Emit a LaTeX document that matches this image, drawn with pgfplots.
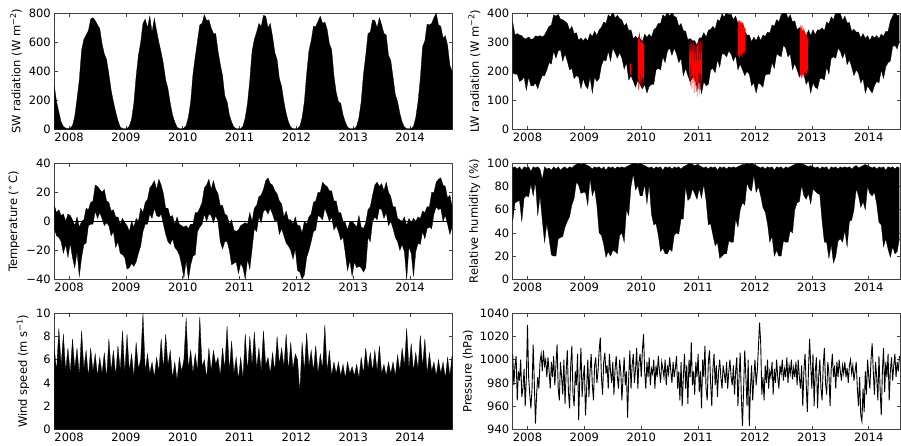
\documentclass[border=0pt]{standalone}
\usepackage{fontspec}
\setmainfont{DejaVu Sans}
\usepackage{pgfplots}
\usepackage{pgfplotstable}
\pgfplotsset{compat=1.18}
\usepgfplotslibrary{fillbetween}

% left column: SW max, temperature band (lo/hi), wind speed max
\pgfplotstableread{
t sw tlo thi ws
2007.74 300 -5 11 7.0
2007.78 190 -10 6 5.0
2007.82 120 -11 8 8.7
2007.86 50 -14 4 5.5
2007.90 20 -22 5 8.2
2007.94 8 -16 0 5.0
2007.98 5 -25 5 7.0
2008.02 8 -15 4 4.8
2008.06 25 -25 1 7.8
2008.10 90 -32 -3 5.2
2008.14 210 -21 3 7.0
2008.18 340 -38 -4 4.6
2008.22 545 -25 0 8.5
2008.26 620 -16 1 5.2
2008.30 650 -15 9 6.8
2008.34 680 -3 8 4.5
2008.38 760 -2 13 7.0
2008.42 770 -2 14 5.0
2008.46 750 7 25 6.5
2008.50 720 2 24 4.6
2008.54 695 6 22 6.2
2008.58 590 2 20 4.8
2008.62 520 -3 22 6.6
2008.66 480 -1 14 4.4
2008.70 380 -3 13 7.8
2008.74 270 -10 7 5.0
2008.78 190 -7 8 6.8
2008.82 120 -18 3 4.6
2008.86 60 -14 3 7.2
2008.90 15 -22 -2 5.0
2008.94 5 -23 2 8.5
2008.98 5 -25 -1 4.8
2009.02 5 -33 -3 8.2
2009.06 20 -32 -7 5.0
2009.10 70 -29 0 6.5
2009.14 180 -31 -4 4.5
2009.18 365 -28 2 7.5
2009.22 510 -22 0 5.2
2009.26 600 -17 9 6.0
2009.30 730 -7 6 10.0
2009.34 760 -2 13 5.0
2009.38 700 -2 15 6.5
2009.42 780 5 23 4.8
2009.46 670 2 25 5.8
2009.50 765 9 28 4.5
2009.54 680 4 22 6.2
2009.58 600 3 29 5.0
2009.62 530 5 25 7.8
2009.66 450 -2 19 5.2
2009.70 340 -9 9 8.2
2009.74 280 -14 9 5.5
2009.78 180 -16 3 6.8
2009.82 100 -12 4 4.4
2009.86 50 -18 -2 5.8
2009.90 15 -20 3 4.2
2009.94 5 -23 -2 6.2
2009.98 5 -30 -3 5.0
2010.02 8 -39 -4 6.0
2010.06 25 -27 -3 9.6
2010.10 85 -40 -5 5.2
2010.14 190 -30 -2 6.8
2010.18 380 -24 -2 4.8
2010.22 500 -23 6 6.5
2010.26 610 -7 6 5.0
2010.30 720 -4 9 9.7
2010.34 730 -2 13 5.4
2010.38 790 5 23 6.0
2010.42 750 0 25 4.4
2010.46 755 5 29 7.0
2010.50 700 4 22 5.0
2010.54 660 -1 28 6.8
2010.58 660 4 22 5.6
2010.62 540 0 19 6.2
2010.66 450 -14 11 4.6
2010.70 370 -19 11 7.0
2010.74 230 -14 5 5.2
2010.78 190 -14 4 8.9
2010.82 100 -20 -2 5.0
2010.86 50 -30 1 7.6
2010.90 15 -29 -6 4.8
2010.94 5 -28 -7 6.2
2010.98 5 -36 -6 4.3
2011.02 5 -29 -3 6.2
2011.06 20 -32 -2 4.4
2011.10 80 -40 -1 8.2
2011.14 180 -26 -2 5.0
2011.18 340 -33 6 8.0
2011.22 540 -19 0 5.5
2011.26 620 -5 9 8.4
2011.30 670 -7 11 5.2
2011.34 730 3 17 7.0
2011.38 710 -1 18 5.0
2011.42 785 7 22 8.5
2011.46 780 8 28 5.5
2011.50 700 5 30 6.2
2011.54 730 9 26 4.8
2011.58 640 5 25 6.6
2011.62 530 0 21 5.0
2011.66 480 1 19 8.0
2011.70 350 -9 14 5.6
2011.74 295 -5 12 7.0
2011.78 190 -10 3 5.4
2011.82 110 -15 7 8.2
2011.86 50 -17 1 5.0
2011.90 15 -20 1 7.5
2011.94 5 -26 -2 5.2
2011.98 5 -19 3 6.5
2012.02 5 -34 -3 6.0
2012.06 20 -35 -3 3.2
2012.10 80 -40 -8 7.5
2012.14 190 -37 0 5.0
2012.18 380 -25 -2 8.3
2012.22 540 -20 3 5.4
2012.26 610 -14 5 6.8
2012.30 710 -7 13 5.0
2012.34 710 -6 14 7.2
2012.38 745 4 20 4.8
2012.42 780 3 20 6.5
2012.46 730 1 27 5.2
2012.50 740 9 25 9.0
2012.54 690 5 24 5.0
2012.58 590 0 21 6.8
2012.62 550 3 21 4.6
2012.66 370 -6 14 5.8
2012.70 255 -3 14 4.8
2012.74 190 -7 6 5.8
2012.78 180 -13 6 4.6
2012.82 100 -11 0 5.6
2012.86 50 -22 -1 4.4
2012.90 15 -34 -6 5.8
2012.94 5 -27 0 4.8
2012.98 5 -38 0 5.4
2013.02 5 -28 -2 4.6
2013.06 20 -32 -4 5.6
2013.10 80 -31 4 4.4
2013.14 190 -32 -4 6.2
2013.18 380 -35 -5 4.8
2013.22 510 -32 -1 7.0
2013.26 660 -11 8 5.2
2013.30 670 -14 10 6.6
2013.34 755 0 18 5.0
2013.38 750 3 25 6.8
2013.42 700 1 27 5.0
2013.46 770 9 24 7.2
2013.50 720 8 26 4.8
2013.54 660 2 21 5.6
2013.58 650 6 27 4.6
2013.62 510 -3 20 5.8
2013.66 475 0 17 4.8
2013.70 360 -5 10 5.8
2013.74 240 -11 10 4.6
2013.78 190 -14 2 6.4
2013.82 110 -20 1 5.0
2013.86 50 -16 0 7.0
2013.90 15 -21 3 5.4
2013.94 5 -40 -3 8.7
2013.98 5 -18 2 5.2
2014.02 5 -22 -1 7.4
2014.06 20 -38 2 5.0
2014.10 80 -21 0 6.6
2014.14 190 -15 3 5.2
2014.18 350 -16 2 8.1
2014.22 570 -7 7 5.4
2014.26 610 -12 6 7.8
2014.30 725 -5 10 4.8
2014.34 720 -4 10 6.6
2014.38 730 -5 20 5.0
2014.42 770 5 20 5.8
2014.46 800 10 27 4.6
2014.50 720 8 29 6.0
2014.54 710 9 30 4.8
2014.58 630 0 25 5.8
2014.62 645 4 24 4.4
2014.66 580 -2 16 6.2
2014.70 440 -9 18 4.6
2014.74 400 -4 10 6.4
}\lefttab

% right column: LW band (lo/hi), relative humidity band (lo/hi)
\pgfplotstableread{
t lwlo lwhi rhlo rhhi
2007.74 195 370 50 96
2007.78 190 325 66 97
2007.82 190 330 67 95
2007.86 165 325 68 97
2007.90 170 323 50 94
2007.94 180 313 70 97
2007.98 135 313 72 96
2008.02 180 318 71 97
2008.06 150 310 82 93
2008.10 150 312 72 97
2008.14 160 322 84 96
2008.18 140 320 55 97
2008.22 165 323 72 95
2008.26 185 318 51 86
2008.30 185 325 32 97
2008.34 205 340 48 95
2008.38 230 355 35 96
2008.42 225 360 21 94
2008.46 270 395 20 97
2008.50 245 390 20 95
2008.54 270 396 35 97
2008.58 275 380 36 94
2008.62 235 378 37 96
2008.66 260 372 45 97
2008.70 235 365 50 95
2008.74 205 342 54 97
2008.78 210 355 64 96
2008.82 175 330 70 98
2008.86 185 333 84 99
2008.90 180 306 81 100
2008.94 140 315 74 99
2008.98 175 305 75 100
2009.02 150 315 75 99
2009.06 140 305 64 98
2009.10 180 330 87 97
2009.14 125 320 72 95
2009.18 180 338 78 97
2009.22 165 323 64 96
2009.26 175 343 40 97
2009.30 220 352 38 95
2009.34 240 370 30 97
2009.38 235 365 19 94
2009.42 270 395 24 97
2009.46 235 387 20 96
2009.50 280 406 25 97
2009.54 264 384 24 95
2009.58 245 393 22 97
2009.62 265 382 38 96
2009.66 245 377 40 97
2009.70 208 356 32 96
2009.74 230 365 60 97
2009.78 170 340 55 98
2009.82 185 343 80 99
2009.86 166 313 91 100
2009.90 145 321 77 100
2009.94 170 312 81 99
2009.98 155 313 72 100
2010.02 140 300 72 99
2010.06 155 328 82 98
2010.10 125 317 65 97
2010.14 148 328 82 96
2010.18 155 318 56 97
2010.22 155 343 47 95
2010.26 205 350 48 97
2010.30 210 365 38 96
2010.34 205 365 24 97
2010.38 250 395 27 94
2010.42 230 387 22 97
2010.46 270 406 22 96
2010.50 280 390 26 97
2010.54 255 403 24 95
2010.58 280 390 38 97
2010.62 260 385 40 96
2010.66 230 355 39 97
2010.70 245 365 52 95
2010.74 185 340 52 97
2010.78 210 338 80 98
2010.82 185 308 68 99
2010.86 165 313 70 100
2010.90 180 305 78 99
2010.94 180 305 74 98
2010.98 150 288 69 99
2011.02 170 315 78 98
2011.06 123 315 70 97
2011.10 165 333 82 96
2011.14 150 318 68 97
2011.18 155 341 47 95
2011.22 205 345 48 97
2011.26 210 355 38 96
2011.30 195 345 29 97
2011.34 240 378 32 94
2011.38 215 373 18 97
2011.42 260 398 20 96
2011.46 260 386 22 97
2011.50 250 405 22 95
2011.54 270 395 33 97
2011.58 260 397 32 96
2011.62 235 378 32 97
2011.66 255 390 52 96
2011.70 205 365 45 97
2011.74 225 363 60 98
2011.78 205 333 66 99
2011.82 185 338 64 99
2011.86 200 325 83 100
2011.90 190 325 78 99
2011.94 150 302 76 100
2011.98 160 318 90 99
2012.02 125 305 75 98
2012.06 160 323 80 97
2012.10 155 306 72 96
2012.14 145 325 62 97
2012.18 187 320 58 95
2012.22 190 335 48 97
2012.26 190 332 32 96
2012.30 230 360 37 97
2012.34 210 355 20 94
2012.38 260 378 25 97
2012.42 255 370 20 96
2012.46 250 395 20 97
2012.50 290 400 33 95
2012.54 280 407 32 97
2012.58 250 382 32 96
2012.62 260 395 42 97
2012.66 205 370 40 98
2012.70 227 374 60 99
2012.74 205 343 66 100
2012.78 180 351 67 100
2012.82 200 340 81 100
2012.86 190 340 72 99
2012.90 155 320 69 98
2012.94 170 342 74 97
2012.98 125 323 65 98
2013.02 160 343 78 97
2013.06 145 326 76 96
2013.10 140 343 74 97
2013.14 175 342 73 95
2013.18 175 350 50 97
2013.22 170 340 32 96
2013.26 215 370 32 97
2013.30 190 363 18 94
2013.34 245 388 30 97
2013.38 250 378 14 96
2013.42 245 403 20 97
2013.46 279 402 33 95
2013.50 270 400 35 97
2013.54 245 375 32 96
2013.58 267 390 42 97
2013.62 223 367 28 96
2013.66 240 368 50 97
2013.70 215 338 51 95
2013.74 185 345 60 97
2013.78 205 335 78 98
2013.82 193 335 72 96
2013.86 160 315 62 97
2013.90 175 330 67 98
2013.94 125 313 60 99
2013.98 150 323 80 98
2014.02 137 306 74 97
2014.06 125 323 72 96
2014.10 150 315 75 97
2014.14 165 323 65 95
2014.18 160 312 49 97
2014.22 205 328 47 96
2014.26 175 320 28 97
2014.30 216 338 35 94
2014.34 230 338 26 97
2014.38 235 373 19 96
2014.42 285 390 28 97
2014.46 290 405 22 95
2014.50 277 392 24 97
2014.54 305 395 35 96
}\righttab

% pressure, every 0.02 yr
\pgfplotstableread[row sep=\\]{
t p\\
2007.74 1005\\ 2007.76 978\\ 2007.78 995\\ 2007.80 1003\\ 2007.82 965\\ 2007.84 990\\ 2007.86 982\\ 2007.88 1000\\ 2007.90 968\\ 2007.92 975\\ 2007.94 992\\ 2007.96 960\\ 2007.98 985\\
2008.00 1030\\ 2008.02 985\\ 2008.04 970\\ 2008.06 958\\ 2008.08 975\\ 2008.10 1013\\ 2008.12 980\\ 2008.14 945\\ 2008.16 970\\ 2008.18 985\\ 2008.20 975\\ 2008.22 998\\ 2008.24 1005\\ 2008.26 990\\ 2008.28 1008\\ 2008.30 995\\ 2008.32 1000\\ 2008.34 985\\ 2008.36 1002\\ 2008.38 990\\ 2008.40 975\\ 2008.42 998\\ 2008.44 985\\ 2008.46 1003\\ 2008.48 978\\
2008.50 995\\ 2008.52 1013\\ 2008.54 975\\ 2008.56 965\\ 2008.58 998\\ 2008.60 985\\ 2008.62 970\\ 2008.64 1000\\ 2008.66 962\\ 2008.68 990\\ 2008.70 1008\\ 2008.72 972\\ 2008.74 958\\ 2008.76 995\\ 2008.78 1012\\ 2008.80 970\\ 2008.82 960\\ 2008.84 990\\ 2008.86 978\\ 2008.88 1005\\ 2008.90 948\\ 2008.92 985\\ 2008.94 1010\\ 2008.96 968\\ 2008.98 985\\
2009.00 995\\ 2009.02 952\\ 2009.04 975\\ 2009.06 1000\\ 2009.08 968\\ 2009.10 990\\ 2009.12 1005\\ 2009.14 978\\ 2009.16 965\\ 2009.18 995\\ 2009.20 1002\\ 2009.22 980\\ 2009.24 990\\ 2009.26 1008\\ 2009.28 1019\\ 2009.30 985\\ 2009.32 970\\ 2009.34 998\\ 2009.36 1006\\ 2009.38 988\\ 2009.40 995\\ 2009.42 975\\ 2009.44 1005\\ 2009.46 990\\ 2009.48 980\\
2009.50 998\\ 2009.52 970\\ 2009.54 992\\ 2009.56 1003\\ 2009.58 985\\ 2009.60 975\\ 2009.62 1000\\ 2009.64 990\\ 2009.66 965\\ 2009.68 985\\ 2009.70 1002\\ 2009.72 978\\ 2009.74 990\\ 2009.76 950\\ 2009.78 985\\ 2009.80 1008\\ 2009.82 975\\ 2009.84 995\\ 2009.86 1005\\ 2009.88 980\\ 2009.90 992\\ 2009.92 1010\\ 2009.94 975\\ 2009.96 998\\ 2009.98 1005\\
2010.00 985\\ 2010.02 1008\\ 2010.04 1022\\ 2010.06 990\\ 2010.08 975\\ 2010.10 998\\ 2010.12 985\\ 2010.14 1002\\ 2010.16 978\\ 2010.18 992\\ 2010.20 988\\ 2010.22 1000\\ 2010.24 975\\ 2010.26 995\\ 2010.28 985\\ 2010.30 1003\\ 2010.32 990\\ 2010.34 980\\ 2010.36 998\\ 2010.38 992\\ 2010.40 985\\ 2010.42 1000\\ 2010.44 978\\ 2010.46 995\\ 2010.48 988\\
2010.50 1002\\ 2010.52 990\\ 2010.54 980\\ 2010.56 998\\ 2010.58 985\\ 2010.60 993\\ 2010.62 1003\\ 2010.64 975\\ 2010.66 990\\ 2010.68 965\\ 2010.70 998\\ 2010.72 960\\ 2010.74 985\\ 2010.76 1005\\ 2010.78 975\\ 2010.80 995\\ 2010.82 962\\ 2010.84 1000\\ 2010.86 985\\ 2010.88 1015\\ 2010.90 978\\ 2010.92 990\\ 2010.94 970\\ 2010.96 998\\ 2010.98 985\\
2011.00 1005\\ 2011.02 972\\ 2011.04 990\\ 2011.06 958\\ 2011.08 1000\\ 2011.10 985\\ 2011.12 1012\\ 2011.14 975\\ 2011.16 965\\ 2011.18 998\\ 2011.20 1008\\ 2011.22 980\\ 2011.24 960\\ 2011.26 992\\ 2011.28 1005\\ 2011.30 978\\ 2011.32 995\\ 2011.34 968\\ 2011.36 990\\ 2011.38 1000\\ 2011.40 985\\ 2011.42 975\\ 2011.44 995\\ 2011.46 988\\ 2011.48 980\\
2011.50 998\\ 2011.52 975\\ 2011.54 990\\ 2011.56 1000\\ 2011.58 985\\ 2011.60 978\\ 2011.62 995\\ 2011.64 970\\ 2011.66 990\\ 2011.68 1002\\ 2011.70 960\\ 2011.72 985\\ 2011.74 1006\\ 2011.76 968\\ 2011.78 943\\ 2011.80 975\\ 2011.82 1008\\ 2011.84 985\\ 2011.86 960\\ 2011.88 1000\\ 2011.90 943\\ 2011.92 975\\ 2011.94 995\\ 2011.96 965\\ 2011.98 985\\
2012.00 1000\\ 2012.02 978\\ 2012.04 990\\ 2012.06 1010\\ 2012.08 1032\\ 2012.10 1015\\ 2012.12 970\\ 2012.14 985\\ 2012.16 965\\ 2012.18 995\\ 2012.20 980\\ 2012.22 1000\\ 2012.24 975\\ 2012.26 990\\ 2012.28 985\\ 2012.30 998\\ 2012.32 970\\ 2012.34 992\\ 2012.36 980\\ 2012.38 1000\\ 2012.40 985\\ 2012.42 975\\ 2012.44 995\\ 2012.46 988\\ 2012.48 1000\\
2012.50 982\\ 2012.52 992\\ 2012.54 985\\ 2012.56 1002\\ 2012.58 980\\ 2012.60 995\\ 2012.62 988\\ 2012.64 1000\\ 2012.66 983\\ 2012.68 993\\ 2012.70 985\\ 2012.72 998\\ 2012.74 978\\ 2012.76 1000\\ 2012.78 985\\ 2012.80 975\\ 2012.82 995\\ 2012.84 960\\ 2012.86 990\\ 2012.88 1005\\ 2012.90 980\\ 2012.92 955\\ 2012.94 990\\ 2012.96 1018\\ 2012.98 995\\
2013.00 975\\ 2013.02 1005\\ 2013.04 960\\ 2013.06 990\\ 2013.08 1002\\ 2013.10 958\\ 2013.12 985\\ 2013.14 1000\\ 2013.16 975\\ 2013.18 965\\ 2013.20 995\\ 2013.22 1010\\ 2013.24 980\\ 2013.26 970\\ 2013.28 998\\ 2013.30 988\\ 2013.32 960\\ 2013.34 992\\ 2013.36 1005\\ 2013.38 985\\ 2013.40 995\\ 2013.42 975\\ 2013.44 998\\ 2013.46 985\\ 2013.48 1000\\
2013.50 990\\ 2013.52 982\\ 2013.54 995\\ 2013.56 988\\ 2013.58 998\\ 2013.60 985\\ 2013.62 993\\ 2013.64 980\\ 2013.66 995\\ 2013.68 1000\\ 2013.70 988\\ 2013.72 995\\ 2013.74 982\\ 2013.76 990\\ 2013.78 998\\ 2013.80 975\\ 2013.82 960\\ 2013.84 985\\ 2013.86 952\\ 2013.88 947\\ 2013.90 975\\ 2013.92 955\\ 2013.94 990\\ 2013.96 970\\ 2013.98 1000\\
2014.00 985\\ 2014.02 975\\ 2014.04 1000\\ 2014.06 1014\\ 2014.08 990\\ 2014.10 970\\ 2014.12 998\\ 2014.14 985\\ 2014.16 965\\ 2014.18 1003\\ 2014.20 975\\ 2014.22 952\\ 2014.24 990\\ 2014.26 1010\\ 2014.28 972\\ 2014.30 998\\ 2014.32 985\\ 2014.34 1005\\ 2014.36 965\\ 2014.38 990\\ 2014.40 1002\\ 2014.42 982\\ 2014.44 995\\ 2014.46 1005\\ 2014.48 985\\
2014.50 998\\ 2014.52 990\\ 2014.54 1003\\
}\prestab

\begin{document}
\begin{tikzpicture}
\pgfplotsset{
  every axis/.append style={
    scale only axis, height=116pt,
    axis line style={black!75, line width=0.6pt},
    tick align=inside, tick pos=both,
    major tick length=3.5pt,
    every tick/.style={black!75, line width=0.6pt},
    xtick={2008,2009,...,2014},
    /pgf/number format/1000 sep={},
    tick label style={font=\fontsize{11.5}{13}\selectfont, /pgf/number format/assume math mode=true},
    label style={font=\fontsize{11.5}{13}\selectfont},
    every axis plot/.append style={no marks},
  },
  leftcol/.style={width=398.4pt, xmin=2007.74, xmax=2014.75},
  rightcol/.style={width=387.3pt, xmin=2007.74, xmax=2014.55},
}

% --- SW radiation
\begin{axis}[leftcol, at={(54.3pt,316.7pt)}, ymin=0, ymax=800, ytick={0,200,...,800},
  ylabel={SW radiation (W m\textsuperscript{−2})}]
\addplot[fill=black, draw=black, line width=0.3pt] table[x=t,y=sw]{\lefttab} \closedcycle;
\end{axis}

% --- LW radiation
\begin{axis}[rightcol, at={(512.7pt,316.7pt)}, ymin=0, ymax=400, ytick={0,100,...,400},
  ylabel={LW radiation (W m\textsuperscript{−2})}]
\addplot[red, line width=0.4pt] coordinates {(2009.805,230) (2009.81,185) (2009.815,225) (2009.82,190)};
\addplot[red, line width=0.4pt] coordinates {
 (2009.940,300) (2009.945,175) (2009.950,320) (2009.955,135) (2009.960,330) (2009.965,160)
 (2009.970,337) (2009.975,145) (2009.980,310) (2009.985,190) (2009.990,300) (2009.995,150)
 (2010.000,320) (2010.005,170) (2010.010,305) (2010.015,140) (2010.020,300) (2010.025,180)
 (2010.030,310) (2010.035,160) (2010.040,295) (2010.045,175) (2010.050,290)};
\addplot[red, line width=0.4pt] coordinates {
 (2010.840,300) (2010.850,165) (2010.860,310) (2010.870,150) (2010.880,300) (2010.890,140)
 (2010.900,290) (2010.910,160) (2010.920,300) (2010.930,125) (2010.940,290) (2010.950,145)
 (2010.960,300) (2010.970,130) (2010.980,295) (2010.985,113) (2010.990,300) (2011.000,140)
 (2011.010,305) (2011.020,120) (2011.030,300) (2011.040,150) (2011.050,310) (2011.060,165)
 (2011.070,300)};
\addplot[black, line width=0.3pt, name path=lwlo] table[x=t,y=lwlo]{\righttab};
\addplot[black, line width=0.3pt, name path=lwhi] table[x=t,y=lwhi]{\righttab};
\addplot[fill=black, draw=none] fill between[of=lwhi and lwlo];
\addplot[red, line width=0.4pt] coordinates {
 (2011.700,370) (2011.705,250) (2011.710,377) (2011.715,255) (2011.720,372) (2011.725,245)
 (2011.730,376) (2011.735,252) (2011.740,368) (2011.745,258) (2011.750,375) (2011.755,248)
 (2011.760,370) (2011.765,255) (2011.770,365) (2011.775,262) (2011.780,372) (2011.785,250)
 (2011.790,366) (2011.795,258) (2011.800,360) (2011.805,265) (2011.810,355) (2011.815,260)
 (2011.820,350) (2011.825,270) (2011.830,345)};
\addplot[red, line width=0.4pt] coordinates {
 (2012.790,350) (2012.795,190) (2012.800,360) (2012.805,180) (2012.810,355) (2012.815,176)
 (2012.820,345) (2012.825,185) (2012.830,358) (2012.835,178) (2012.840,340) (2012.845,190)
 (2012.850,350) (2012.855,182) (2012.860,335) (2012.865,195) (2012.870,345) (2012.875,180)
 (2012.880,330) (2012.885,188) (2012.890,325) (2012.895,200) (2012.900,335) (2012.905,185)
 (2012.910,320) (2012.915,195) (2012.920,315) (2012.925,205) (2012.930,310)};
\end{axis}

% --- Temperature
\begin{axis}[leftcol, at={(54.3pt,166.7pt)}, ymin=-40, ymax=40, ytick={-40,-20,0,20,40},
  yticklabels={−40,−20,0,20,40},
  ylabel={Temperature (\textsuperscript{∘}\,C)}]
\addplot[black, line width=0.3pt, name path=tlo] table[x=t,y=tlo]{\lefttab};
\addplot[black, line width=0.3pt, name path=thi] table[x=t,y=thi]{\lefttab};
\addplot[fill=black, draw=none] fill between[of=thi and tlo];
\addplot[black, line width=0.6pt] coordinates {(2007.74,0) (2014.75,0)};
\end{axis}

% --- Relative humidity
\begin{axis}[rightcol, at={(512.7pt,166.7pt)}, ymin=0, ymax=100, ytick={0,20,...,100},
  ylabel={Relative humidity (\%)}]
\addplot[black, line width=0.3pt, name path=rhlo] table[x=t,y=rhlo]{\righttab};
\addplot[black, line width=0.3pt, name path=rhhi] table[x=t,y=rhhi]{\righttab};
\addplot[fill=black, draw=none] fill between[of=rhhi and rhlo];
\end{axis}

% --- Wind speed
\begin{axis}[leftcol, at={(54.3pt,16.7pt)}, ymin=0, ymax=10, ytick={0,2,...,10},
  ylabel={Wind speed (m s\textsuperscript{−1})}]
\addplot[fill=black, draw=black, line width=0.3pt] table[x=t,y=ws]{\lefttab} \closedcycle;
\end{axis}

% --- Pressure
\begin{axis}[rightcol, at={(512.7pt,16.7pt)}, ymin=940, ymax=1040, ytick={940,960,...,1040},
  ylabel={Pressure (hPa)}]
\addplot[black, line width=0.9pt] table[x=t,y=p]{\prestab};
\end{axis}

\pgfresetboundingbox
\path[use as bounding box] (0,0) rectangle (901pt,446pt);
\end{tikzpicture}
\end{document}
